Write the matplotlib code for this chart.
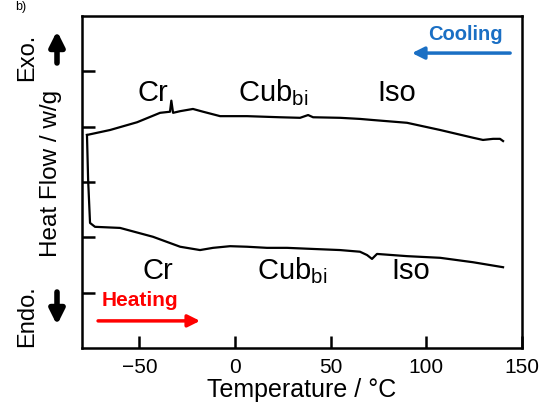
import numpy as np
import matplotlib
matplotlib.use('Agg')
import matplotlib.pyplot as plt

plt.rcParams['font.family'] = ['Liberation Sans', 'DejaVu Sans']

# cooling run, read from 140 C down to the low end
cooling_T = [140.1, 138.5, 134.9, 129.6, 124.4, 107.2, 89.9, 72.1, 65.3, 54.9,
             40.8, 38.2, 34.0, 23.5, 6.3, -7.8, -16.7, -22.0, -28.7, -32.4,
             -33.3, -34.0, -39.2, -51.2, -65.3, -77.4]
cooling_hf = [3.74, 3.78, 3.78, 3.76, 3.80, 3.94, 4.07, 4.12, 4.14, 4.16,
              4.17, 4.21, 4.16, 4.17, 4.19, 4.19, 4.27, 4.32, 4.28, 4.25,
              4.47, 4.27, 4.25, 4.08, 3.94, 3.85]

# isothermal hold + heating run
heating_T = [-77.4, -76.8, -75.8, -73.2, -60.1, -42.9, -28.7, -18.3, -11.5, -2.6,
             6.3, 16.7, 27.2, 40.8, 54.9, 65.3, 69.0, 71.6, 74.2, 89.9,
             107.2, 124.4, 140.1]
heating_hf = [3.85, 3.04, 2.26, 2.19, 2.17, 2.01, 1.83, 1.77, 1.81, 1.84,
              1.83, 1.81, 1.81, 1.79, 1.77, 1.74, 1.68, 1.61, 1.70, 1.66,
              1.63, 1.55, 1.46]

phases = ['Cr', 'Cub$_{\\mathregular{bi}}$', 'Iso']
phase_x_top = [-42.9, 19.9, 84.7]
phase_x_bot = [-40.3, 29.8, 92.0]

W, H = 543, 409
fig = plt.figure(figsize=(W / 100, H / 100), dpi=100)
ax = fig.add_axes([82 / W, 1 - 348 / H, 440 / W, 332 / H])


def fpx(x, y):
    # image pixel -> figure fraction
    return x / W, 1 - y / H


ax.plot(cooling_T, cooling_hf, color='black', lw=1.6, solid_joinstyle='round')
ax.plot(heating_T, heating_hf, color='black', lw=1.6, solid_joinstyle='round')

ax.set_xlim(-80, 150)
ax.set_ylim(0, 6)
ax.set_xticks([-50, 0, 50, 100, 150])
ax.set_yticks([1, 2, 3, 4, 5])
ax.set_yticklabels([])
ax.tick_params(direction='in', length=9, width=1.8, labelsize=15, pad=7)
ax.tick_params(axis='x', which='both', top=False)
for s in ax.spines.values():
    s.set_linewidth(1.8)

ax.set_xlabel('Temperature / °C', fontsize=18, labelpad=1)
ax.set_ylabel('Heat Flow / w/g', fontsize=17.5)
ax.yaxis.set_label_coords(-0.045, 0.527)

for name, xt, xb in zip(phases, phase_x_top, phase_x_bot):
    ax.text(xt, 4.61, name, fontsize=21, ha='center', va='center')
    ax.text(xb, 1.39, name, fontsize=21, ha='center', va='center')

# cooling / heating direction markers
ax.text(120.2, 5.66, 'Cooling', color='#1a6fc4', fontsize=14.5, fontweight='bold',
        ha='center', va='center')
ax.annotate('', xy=(92.5, 5.33), xytext=(143.8, 5.33),
            arrowprops=dict(arrowstyle='-|>', color='#1a6fc4', lw=2.5,
                            mutation_scale=18, shrinkA=0, shrinkB=0))
ax.text(-49.7, 0.85, 'Heating', color='#ff0000', fontsize=15, fontweight='bold',
        ha='center', va='center')
ax.annotate('', xy=(-18.3, 0.49), xytext=(-71.6, 0.49),
            arrowprops=dict(arrowstyle='-|>', color='#ff0000', lw=2.5,
                            mutation_scale=18, shrinkA=0, shrinkB=0))

# Exo / Endo labels beside the y axis
fig.text(*fpx(27, 57), 'Exo.', rotation=90, fontsize=17, ha='center', va='center')
fig.text(*fpx(27, 316), 'Endo.', rotation=90, fontsize=17, ha='center', va='center')
ax.annotate('', xy=fpx(57, 31), xytext=fpx(57, 63), xycoords='figure fraction',
            textcoords='figure fraction',
            arrowprops=dict(arrowstyle='-|>', color='black', lw=4,
                            mutation_scale=22, shrinkA=0, shrinkB=0))
ax.annotate('', xy=fpx(57, 325), xytext=fpx(57, 292), xycoords='figure fraction',
            textcoords='figure fraction',
            arrowprops=dict(arrowstyle='-|>', color='black', lw=4,
                            mutation_scale=22, shrinkA=0, shrinkB=0))

# panel letter (mostly cropped away in the source image)
fig.text(*fpx(26, 1), 'b)', fontsize=9, ha='right', va='top')

fig.savefig('out.png', dpi=100)
